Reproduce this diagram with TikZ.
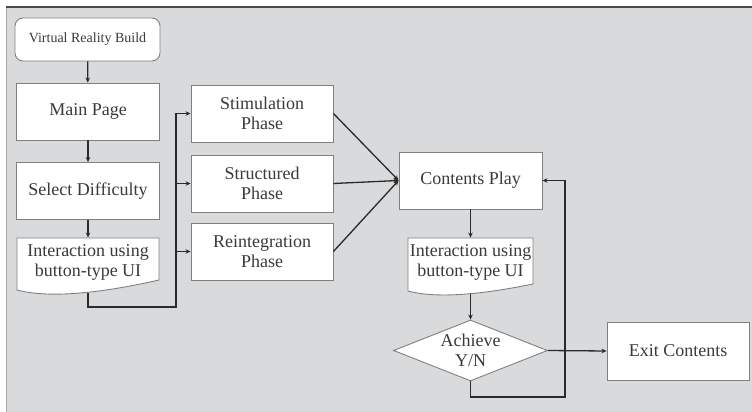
\documentclass[tikz,border=0pt]{standalone}
\usepackage{fontspec}
\setmainfont{Liberation Serif}
\usetikzlibrary{arrows.meta,shapes.geometric}
\definecolor{bg}{HTML}{D9DADC}
\definecolor{txt}{HTML}{3A3A3A}
\definecolor{edge}{HTML}{808080}
\definecolor{ln}{HTML}{2A2A2A}
\definecolor{topline}{HTML}{4A4A4A}
\definecolor{leftline}{HTML}{A8A8A8}
\begin{document}
\begin{tikzpicture}[x=1pt,y=-1pt,
  box/.style={draw=edge,line width=0.9pt,fill=white,minimum width=143pt,minimum height=57pt,
    inner sep=0pt,align=center,text=txt,font=\fontsize{18}{20}\selectfont},
  doctext/.style={box,draw=none,fill=none,minimum height=48pt},
  docshape/.style={draw=edge,line width=0.9pt,fill=white},
  conn/.style={draw=ln,line width=1.3pt,-{Stealth[length=5pt,width=4.5pt]}},
  plain/.style={draw=ln,line width=1.3pt}]
\useasboundingbox (0,0) rectangle (752,412);
% background panel
\fill[bg] (6,7) rectangle (752,412);
\draw[leftline,line width=1pt] (6,7) -- (6,412);
\draw[topline,line width=1.5pt] (6,7) -- (752,7);

% left column
\node[box,rounded corners=8pt,minimum width=145pt,minimum height=43pt,
  font=\fontsize{14}{16}\selectfont] (vr) at (87.5,39.5) {Virtual Reality Build};
\node[box] (mp) at (88,111.5) {Main Page};
\node[box] (sd) at (88,191) {Select Difficulty};
\path[docshape] (17,238) -- (159,238) -- (159,280)
  .. controls (115,290) and (55,300) .. (17,290) -- cycle;
\node[doctext,minimum width=142pt] (ia) at (88,262) {Interaction using\\button-type UI};
\coordinate (iabot) at (88,292.5);

% phases
\node[box,minimum width=142pt] (stim) at (262,113.5) {Stimulation\\Phase};
\node[box,minimum width=142pt] (struct) at (262,183.5) {Structured\\Phase};
\node[box,minimum width=142pt] (reint) at (262,251.5) {Reintegration\\Phase};

% right column
\node[box] (cp) at (470.5,180.5) {Contents Play};
\path[docshape] (408,238) -- (533,238) -- (533,284)
  .. controls (494,292) and (441,300) .. (408,291) -- cycle;
\node[doctext,minimum width=125pt] (ia2) at (470.5,262) {Interaction using\\button-type UI};
\coordinate (ia2bot) at (470.5,293.5);
\node[box,diamond,aspect=2.5,minimum width=154pt,minimum height=61pt] (dia) at (470.5,350.5) {Achieve\\Y/N};
\node[box,minimum width=142pt,minimum height=58pt] (exit) at (678,351) {Exit Contents};

% connectors
\draw[conn] (vr) -- (mp);
\draw[conn] (mp) -- (sd);
\draw[conn] (sd) -- (ia);
\coordinate (jn) at (176,307);
\draw[conn] (iabot) |- (jn) |- (stim.west);
\draw[conn] (jn |- struct.west) -- (struct.west);
\draw[conn] (jn |- reint.west) -- (reint.west);
\draw[conn] (stim.east) -- (cp.west);
\draw[conn] (struct.east) -- (cp.west);
\draw[conn] (reint.east) -- (cp.west);
\draw[conn] (cp) -- (ia2);
\draw[conn] (ia2bot) -- (dia.north);
\draw[conn] (dia.east) -- (exit.west);
\coordinate (lp) at (565,397);
\draw[conn] (dia.south) |- (lp) |- (cp.east);
\end{tikzpicture}
\end{document}
